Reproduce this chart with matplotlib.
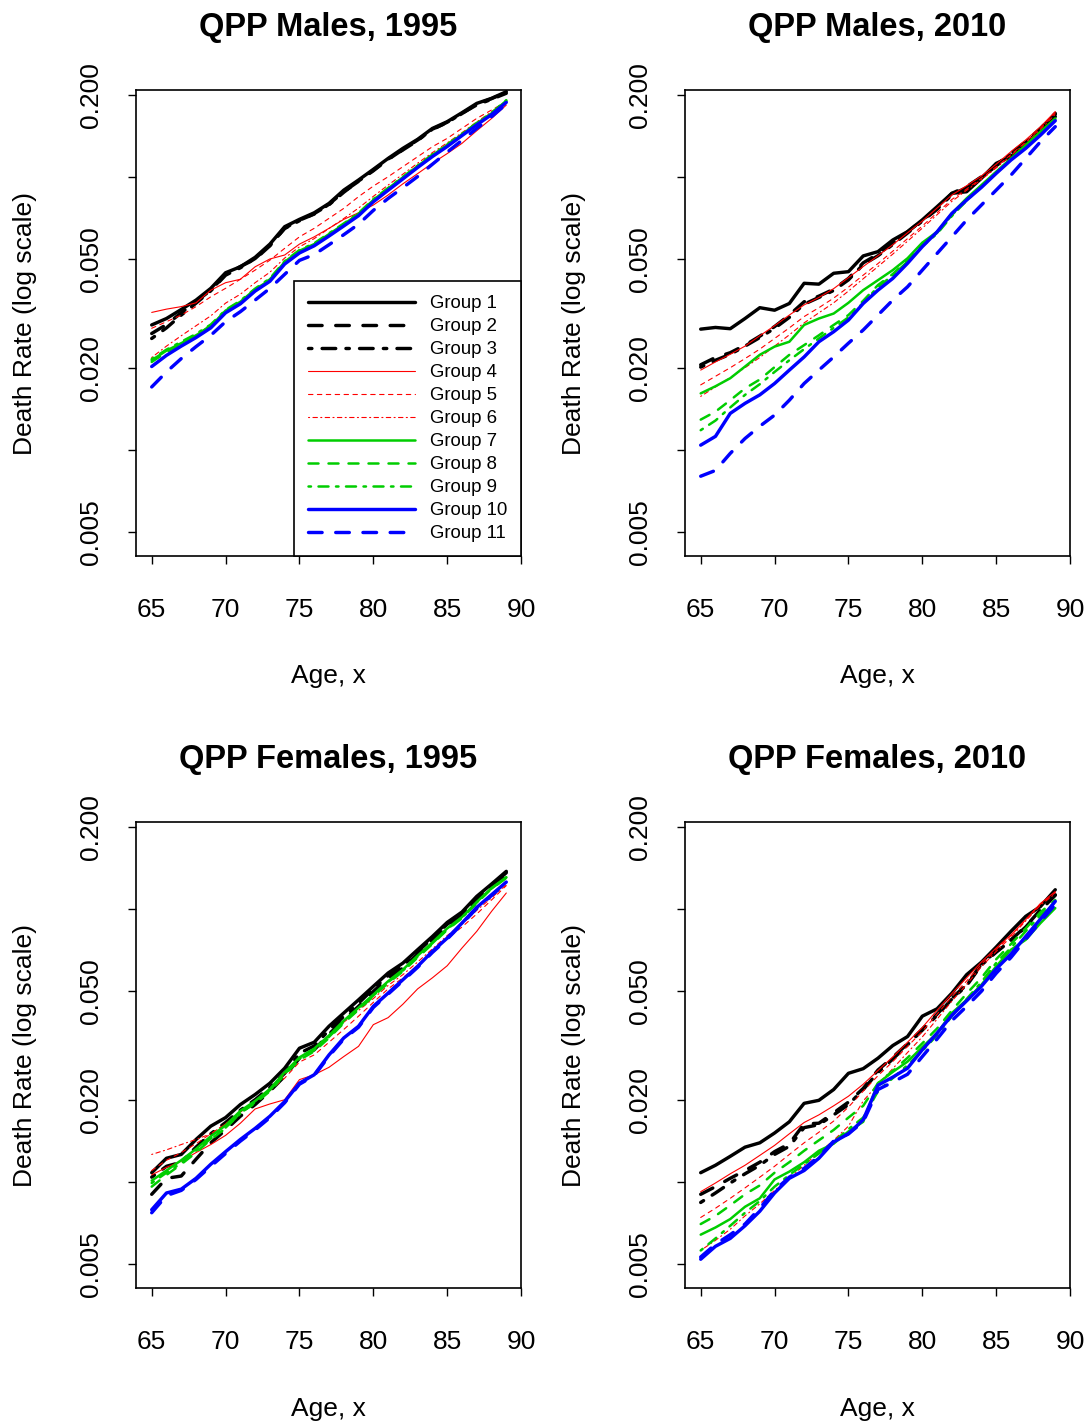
import matplotlib
matplotlib.use("Agg")
import matplotlib.pyplot as plt
from matplotlib.ticker import NullLocator

plt.rcParams['font.family'] = ['Liberation Sans', 'DejaVu Sans']

ages = list(range(65, 90))

# QPP males, 1995
m95_g1 = [0.0287, 0.0303, 0.0327, 0.0354, 0.0391, 0.0446, 0.0469, 0.0508, 0.0568, 0.0658, 0.0700, 0.0740, 0.0801, 0.0896, 0.0976, 0.1068, 0.1171, 0.1275, 0.1376, 0.1509, 0.1597, 0.1723, 0.1864, 0.1945, 0.2057]
m95_g2 = [0.0267, 0.0288, 0.0318, 0.0350, 0.0385, 0.0440, 0.0470, 0.0500, 0.0560, 0.0650, 0.0695, 0.0732, 0.0795, 0.0885, 0.0965, 0.1060, 0.1160, 0.1262, 0.1368, 0.1495, 0.1590, 0.1710, 0.1850, 0.1940, 0.2050]
m95_g3 = [0.0256, 0.0280, 0.0312, 0.0345, 0.0383, 0.0437, 0.0465, 0.0503, 0.0562, 0.0648, 0.0692, 0.0735, 0.0792, 0.0880, 0.0968, 0.1055, 0.1165, 0.1258, 0.1362, 0.1500, 0.1585, 0.1715, 0.1840, 0.1930, 0.2030]
m95_g4 = [0.0319, 0.0328, 0.0335, 0.0346, 0.0385, 0.0410, 0.0422, 0.0469, 0.0501, 0.0518, 0.0568, 0.0604, 0.0649, 0.0700, 0.0740, 0.0790, 0.0860, 0.0945, 0.1030, 0.1125, 0.1220, 0.1330, 0.1480, 0.1640, 0.1838]
m95_g5 = [0.0279, 0.0295, 0.0312, 0.0335, 0.0364, 0.0391, 0.0422, 0.0456, 0.0496, 0.0548, 0.0604, 0.0649, 0.0706, 0.0768, 0.0848, 0.0927, 0.1003, 0.1092, 0.1188, 0.1293, 0.1387, 0.1509, 0.1642, 0.1762, 0.1891]
m95_g6 = [0.0218, 0.0240, 0.0262, 0.0285, 0.0310, 0.0345, 0.0372, 0.0410, 0.0448, 0.0505, 0.0555, 0.0595, 0.0648, 0.0705, 0.0770, 0.0850, 0.0935, 0.1025, 0.1125, 0.1230, 0.1335, 0.1455, 0.1595, 0.1735, 0.1900]
m95_g7 = [0.0213, 0.0231, 0.0246, 0.0263, 0.0284, 0.0324, 0.0349, 0.0388, 0.0419, 0.0489, 0.0537, 0.0568, 0.0618, 0.0671, 0.0734, 0.0824, 0.0909, 0.0998, 0.1098, 0.1205, 0.1311, 0.1434, 0.1574, 0.1713, 0.1907]
m95_g8 = [0.0210, 0.0228, 0.0244, 0.0262, 0.0286, 0.0320, 0.0346, 0.0385, 0.0422, 0.0484, 0.0532, 0.0565, 0.0612, 0.0668, 0.0728, 0.0818, 0.0900, 0.0990, 0.1090, 0.1195, 0.1300, 0.1425, 0.1560, 0.1700, 0.1890]
m95_g9 = [0.0215, 0.0233, 0.0249, 0.0266, 0.0288, 0.0326, 0.0352, 0.0390, 0.0425, 0.0492, 0.0540, 0.0572, 0.0622, 0.0676, 0.0738, 0.0830, 0.0912, 0.1002, 0.1102, 0.1210, 0.1318, 0.1440, 0.1580, 0.1720, 0.1915]
m95_g10 = [0.0202, 0.0222, 0.0240, 0.0258, 0.0280, 0.0318, 0.0343, 0.0382, 0.0415, 0.0480, 0.0527, 0.0560, 0.0608, 0.0662, 0.0722, 0.0812, 0.0895, 0.0985, 0.1085, 0.1190, 0.1295, 0.1420, 0.1555, 0.1695, 0.1880]
m95_g11 = [0.0170, 0.0193, 0.0216, 0.0239, 0.0263, 0.0295, 0.0321, 0.0354, 0.0391, 0.0440, 0.0495, 0.0520, 0.0565, 0.0615, 0.0672, 0.0755, 0.0835, 0.0915, 0.1005, 0.1115, 0.1235, 0.1365, 0.1509, 0.1666, 0.1854]

# QPP males, 2010
m10_g1 = [0.0277, 0.0281, 0.0278, 0.0303, 0.0332, 0.0325, 0.0344, 0.0408, 0.0405, 0.0444, 0.0450, 0.0514, 0.0533, 0.0588, 0.0631, 0.0697, 0.0779, 0.0872, 0.0884, 0.0990, 0.1123, 0.1190, 0.1330, 0.1490, 0.1667]
m10_g2 = [0.0205, 0.0218, 0.0227, 0.0242, 0.0261, 0.0283, 0.0312, 0.0349, 0.0366, 0.0388, 0.0425, 0.0485, 0.0522, 0.0572, 0.0630, 0.0696, 0.0768, 0.0872, 0.0922, 0.1003, 0.1107, 0.1222, 0.1349, 0.1509, 0.1713]
m10_g3 = [0.0201, 0.0213, 0.0224, 0.0240, 0.0258, 0.0279, 0.0306, 0.0342, 0.0362, 0.0384, 0.0420, 0.0478, 0.0515, 0.0566, 0.0624, 0.0690, 0.0762, 0.0862, 0.0915, 0.0995, 0.1100, 0.1215, 0.1340, 0.1500, 0.1700]
m10_g4 = [0.0196, 0.0210, 0.0224, 0.0240, 0.0262, 0.0285, 0.0312, 0.0340, 0.0362, 0.0390, 0.0428, 0.0470, 0.0515, 0.0565, 0.0625, 0.0690, 0.0770, 0.0860, 0.0930, 0.1010, 0.1115, 0.1240, 0.1370, 0.1530, 0.1740]
m10_g5 = [0.0173, 0.0186, 0.0200, 0.0216, 0.0234, 0.0256, 0.0280, 0.0308, 0.0332, 0.0360, 0.0395, 0.0437, 0.0482, 0.0535, 0.0595, 0.0662, 0.0740, 0.0828, 0.0905, 0.0990, 0.1090, 0.1210, 0.1345, 0.1510, 0.1720]
m10_g6 = [0.0157, 0.0170, 0.0184, 0.0200, 0.0218, 0.0240, 0.0264, 0.0292, 0.0318, 0.0346, 0.0382, 0.0424, 0.0470, 0.0522, 0.0582, 0.0650, 0.0728, 0.0815, 0.0895, 0.0980, 0.1080, 0.1200, 0.1335, 0.1495, 0.1700]
m10_g7 = [0.0161, 0.0171, 0.0183, 0.0202, 0.0223, 0.0239, 0.0249, 0.0287, 0.0303, 0.0316, 0.0346, 0.0385, 0.0419, 0.0456, 0.0504, 0.0575, 0.0630, 0.0736, 0.0836, 0.0935, 0.1047, 0.1171, 0.1311, 0.1468, 0.1642]
m10_g8 = [0.0129, 0.0138, 0.0152, 0.0168, 0.0181, 0.0201, 0.0223, 0.0242, 0.0263, 0.0287, 0.0312, 0.0352, 0.0402, 0.0441, 0.0496, 0.0564, 0.0625, 0.0726, 0.0824, 0.0927, 0.1038, 0.1162, 0.1300, 0.1455, 0.1628]
m10_g9 = [0.0118, 0.0128, 0.0143, 0.0159, 0.0174, 0.0193, 0.0213, 0.0234, 0.0256, 0.0280, 0.0306, 0.0346, 0.0396, 0.0436, 0.0490, 0.0558, 0.0620, 0.0720, 0.0820, 0.0922, 0.1035, 0.1160, 0.1298, 0.1455, 0.1635]
m10_g10 = [0.0104, 0.0112, 0.0136, 0.0148, 0.0159, 0.0175, 0.0196, 0.0219, 0.0249, 0.0271, 0.0299, 0.0344, 0.0385, 0.0425, 0.0483, 0.0556, 0.0630, 0.0736, 0.0824, 0.0917, 0.1032, 0.1155, 0.1275, 0.1426, 0.1610]
m10_g11 = [0.0080, 0.0084, 0.0097, 0.0110, 0.0122, 0.0134, 0.0152, 0.0175, 0.0196, 0.0219, 0.0246, 0.0275, 0.0312, 0.0354, 0.0396, 0.0456, 0.0525, 0.0604, 0.0696, 0.0790, 0.0896, 0.1017, 0.1171, 0.1349, 0.1531]

# QPP females, 1995
f95_g1 = [0.0108, 0.0122, 0.0126, 0.0143, 0.0160, 0.0172, 0.0192, 0.0209, 0.0230, 0.0261, 0.0309, 0.0325, 0.0372, 0.0416, 0.0465, 0.0521, 0.0583, 0.0634, 0.0710, 0.0794, 0.0894, 0.0976, 0.1114, 0.1236, 0.1376]
f95_g2 = [0.0090, 0.0103, 0.0105, 0.0121, 0.0139, 0.0155, 0.0174, 0.0192, 0.0215, 0.0244, 0.0284, 0.0305, 0.0348, 0.0393, 0.0440, 0.0499, 0.0559, 0.0608, 0.0684, 0.0772, 0.0864, 0.0949, 0.1083, 0.1202, 0.1345]
f95_g3 = [0.0104, 0.0114, 0.0118, 0.0134, 0.0150, 0.0165, 0.0183, 0.0200, 0.0222, 0.0250, 0.0296, 0.0315, 0.0360, 0.0404, 0.0452, 0.0510, 0.0570, 0.0620, 0.0698, 0.0784, 0.0880, 0.0962, 0.1098, 0.1220, 0.1360]
f95_g4 = [0.0106, 0.0113, 0.0119, 0.0128, 0.0137, 0.0148, 0.0164, 0.0185, 0.0193, 0.0200, 0.0237, 0.0247, 0.0263, 0.0288, 0.0314, 0.0377, 0.0400, 0.0448, 0.0510, 0.0560, 0.0620, 0.0720, 0.0829, 0.0981, 0.1146]
f95_g5 = [0.0110, 0.0120, 0.0128, 0.0138, 0.0150, 0.0163, 0.0180, 0.0198, 0.0216, 0.0240, 0.0275, 0.0292, 0.0325, 0.0362, 0.0405, 0.0455, 0.0510, 0.0560, 0.0622, 0.0695, 0.0780, 0.0860, 0.0960, 0.1080, 0.1220]
f95_g6 = [0.0126, 0.0131, 0.0137, 0.0143, 0.0150, 0.0163, 0.0180, 0.0198, 0.0220, 0.0248, 0.0285, 0.0305, 0.0345, 0.0385, 0.0425, 0.0470, 0.0525, 0.0575, 0.0640, 0.0715, 0.0800, 0.0880, 0.0990, 0.1100, 0.1230]
f95_g7 = [0.0101, 0.0110, 0.0120, 0.0132, 0.0147, 0.0161, 0.0182, 0.0198, 0.0219, 0.0252, 0.0286, 0.0308, 0.0344, 0.0390, 0.0435, 0.0486, 0.0544, 0.0600, 0.0675, 0.0755, 0.0850, 0.0935, 0.1062, 0.1195, 0.1310]
f95_g8 = [0.0096, 0.0106, 0.0116, 0.0128, 0.0143, 0.0157, 0.0179, 0.0194, 0.0215, 0.0247, 0.0280, 0.0301, 0.0337, 0.0382, 0.0428, 0.0479, 0.0536, 0.0591, 0.0665, 0.0745, 0.0840, 0.0927, 0.1053, 0.1188, 0.1300]
f95_g9 = [0.0099, 0.0108, 0.0117, 0.0130, 0.0144, 0.0158, 0.0178, 0.0196, 0.0217, 0.0249, 0.0283, 0.0304, 0.0340, 0.0386, 0.0431, 0.0482, 0.0540, 0.0595, 0.0670, 0.0750, 0.0845, 0.0930, 0.1058, 0.1190, 0.1305]
f95_g10 = [0.0079, 0.0091, 0.0094, 0.0103, 0.0116, 0.0129, 0.0143, 0.0157, 0.0174, 0.0197, 0.0230, 0.0247, 0.0292, 0.0337, 0.0372, 0.0440, 0.0492, 0.0551, 0.0617, 0.0700, 0.0783, 0.0889, 0.1015, 0.1129, 0.1257]
f95_g11 = [0.0077, 0.0089, 0.0093, 0.0102, 0.0114, 0.0127, 0.0141, 0.0155, 0.0172, 0.0195, 0.0228, 0.0245, 0.0289, 0.0334, 0.0369, 0.0436, 0.0488, 0.0546, 0.0612, 0.0694, 0.0777, 0.0882, 0.1008, 0.1122, 0.1250]

# QPP females, 2010
f10_g1 = [0.0108, 0.0115, 0.0124, 0.0134, 0.0139, 0.0151, 0.0166, 0.0194, 0.0199, 0.0218, 0.0250, 0.0260, 0.0284, 0.0316, 0.0341, 0.0405, 0.0431, 0.0492, 0.0575, 0.0639, 0.0726, 0.0829, 0.0941, 0.1023, 0.1178]
f10_g2 = [0.0090, 0.0096, 0.0103, 0.0110, 0.0118, 0.0129, 0.0138, 0.0163, 0.0164, 0.0179, 0.0196, 0.0220, 0.0257, 0.0286, 0.0321, 0.0363, 0.0412, 0.0472, 0.0528, 0.0629, 0.0700, 0.0772, 0.0864, 0.0995, 0.1129]
f10_g3 = [0.0084, 0.0091, 0.0099, 0.0107, 0.0115, 0.0126, 0.0135, 0.0158, 0.0162, 0.0176, 0.0192, 0.0218, 0.0252, 0.0282, 0.0318, 0.0360, 0.0408, 0.0468, 0.0524, 0.0624, 0.0695, 0.0768, 0.0860, 0.0990, 0.1125]
f10_g4 = [0.0092, 0.0099, 0.0107, 0.0115, 0.0125, 0.0136, 0.0150, 0.0165, 0.0176, 0.0190, 0.0206, 0.0228, 0.0256, 0.0287, 0.0325, 0.0368, 0.0426, 0.0490, 0.0560, 0.0640, 0.0720, 0.0805, 0.0915, 0.1050, 0.1160]
f10_g5 = [0.0074, 0.0080, 0.0087, 0.0095, 0.0104, 0.0114, 0.0126, 0.0139, 0.0152, 0.0167, 0.0188, 0.0215, 0.0245, 0.0276, 0.0314, 0.0356, 0.0412, 0.0478, 0.0545, 0.0628, 0.0712, 0.0800, 0.0915, 0.1045, 0.1150]
f10_g6 = [0.0056, 0.0061, 0.0067, 0.0075, 0.0083, 0.0093, 0.0103, 0.0115, 0.0128, 0.0142, 0.0160, 0.0198, 0.0228, 0.0260, 0.0298, 0.0340, 0.0395, 0.0460, 0.0530, 0.0615, 0.0700, 0.0790, 0.0905, 0.1035, 0.1140]
f10_g7 = [0.0064, 0.0068, 0.0073, 0.0081, 0.0087, 0.0102, 0.0109, 0.0118, 0.0130, 0.0138, 0.0153, 0.0166, 0.0230, 0.0253, 0.0276, 0.0312, 0.0351, 0.0416, 0.0465, 0.0528, 0.0617, 0.0710, 0.0772, 0.0889, 0.1009]
f10_g8 = [0.0070, 0.0075, 0.0082, 0.0090, 0.0097, 0.0108, 0.0118, 0.0130, 0.0142, 0.0155, 0.0172, 0.0190, 0.0230, 0.0255, 0.0285, 0.0322, 0.0365, 0.0425, 0.0490, 0.0560, 0.0655, 0.0745, 0.0850, 0.0975, 0.1080]
f10_g9 = [0.0056, 0.0062, 0.0069, 0.0077, 0.0085, 0.0096, 0.0106, 0.0116, 0.0127, 0.0140, 0.0156, 0.0172, 0.0215, 0.0240, 0.0268, 0.0302, 0.0345, 0.0405, 0.0468, 0.0540, 0.0635, 0.0722, 0.0830, 0.0950, 0.1060]
f10_g10 = [0.0052, 0.0058, 0.0062, 0.0069, 0.0078, 0.0091, 0.0103, 0.0110, 0.0122, 0.0140, 0.0150, 0.0169, 0.0226, 0.0242, 0.0261, 0.0305, 0.0351, 0.0408, 0.0461, 0.0521, 0.0604, 0.0684, 0.0794, 0.0920, 0.1068]
f10_g11 = [0.0053, 0.0059, 0.0064, 0.0070, 0.0080, 0.0093, 0.0104, 0.0112, 0.0124, 0.0141, 0.0150, 0.0166, 0.0218, 0.0232, 0.0248, 0.0288, 0.0334, 0.0390, 0.0440, 0.0500, 0.0582, 0.0665, 0.0775, 0.0900, 0.1040]

group_labels = ["Group %d" % i for i in range(1, 12)]
group_colors = ["black"] * 3 + ["#FF0000"] * 3 + ["#00CD00"] * 3 + ["#0000FF"] * 2
group_widths = [2.45] * 3 + [0.8] * 3 + [1.8] * 3 + [2.45] * 2
group_styles = ["-", (0, (4, 4)), (0, (1, 3, 4, 3))] * 3 + ["-", (0, (4, 4))]

panels = [
    ("QPP Males, 1995", [m95_g1, m95_g2, m95_g3, m95_g4, m95_g5, m95_g6, m95_g7, m95_g8, m95_g9, m95_g10, m95_g11]),
    ("QPP Males, 2010", [m10_g1, m10_g2, m10_g3, m10_g4, m10_g5, m10_g6, m10_g7, m10_g8, m10_g9, m10_g10, m10_g11]),
    ("QPP Females, 1995", [f95_g1, f95_g2, f95_g3, f95_g4, f95_g5, f95_g6, f95_g7, f95_g8, f95_g9, f95_g10, f95_g11]),
    ("QPP Females, 2010", [f10_g1, f10_g2, f10_g3, f10_g4, f10_g5, f10_g6, f10_g7, f10_g8, f10_g9, f10_g10, f10_g11]),
]

# axes boxes in figure fractions (left, bottom, width, height)
boxes = [
    [0.1247, 0.6098, 0.3529, 0.3270],
    [0.6279, 0.6098, 0.3529, 0.3270],
    [0.1247, 0.0961, 0.3529, 0.3270],
    [0.6279, 0.0961, 0.3529, 0.3270],
]

yticks = [0.005, 0.01, 0.02, 0.05, 0.1, 0.2]
ytick_labels = ["0.005", "", "0.020", "0.050", "", "0.200"]
xticks = [65, 70, 75, 80, 85, 90]

fig = plt.figure(figsize=(10.91, 14.25), dpi=100)

for i, (title, series) in enumerate(panels):
    ax = fig.add_axes(boxes[i])
    for k, vals in enumerate(series):
        ax.plot(ages, vals, color=group_colors[k], lw=group_widths[k],
                linestyle=group_styles[k], label=group_labels[k],
                dash_capstyle='round', solid_capstyle='round',
                solid_joinstyle='round', dash_joinstyle='round')
    ax.set_yscale('log')
    ax.set_xlim(63.94, 90.0)
    ax.set_ylim(0.004077, 0.2086)
    ax.yaxis.set_minor_locator(NullLocator())
    ax.set_yticks(yticks, ytick_labels, rotation=90, va='center')
    ax.set_xticks(xticks, [str(t) for t in xticks])
    ax.tick_params(direction='out', length=5.8, width=1.0, labelsize=19)
    ax.tick_params(axis='x', pad=24.5)
    ax.tick_params(axis='y', pad=18)
    for sp in ax.spines.values():
        sp.set_linewidth(1.2)
    ax.set_title(title, fontsize=23.5, fontweight='bold', pad=39)
    ax.set_xlabel("Age, x", fontsize=19, labelpad=30.5)
    ax.set_ylabel("Death Rate (log scale)", fontsize=19, labelpad=30)

    if i == 0:
        leg = ax.legend(loc='lower right', bbox_to_anchor=(1, 0), borderaxespad=0,
                        fontsize=13.4, handlelength=5.75, handletextpad=0.8,
                        labelspacing=0.32, borderpad=0.75, fancybox=False,
                        framealpha=1, edgecolor='black')
        leg.get_frame().set_linewidth(1.2)

fig.savefig("out.png", dpi=100)
